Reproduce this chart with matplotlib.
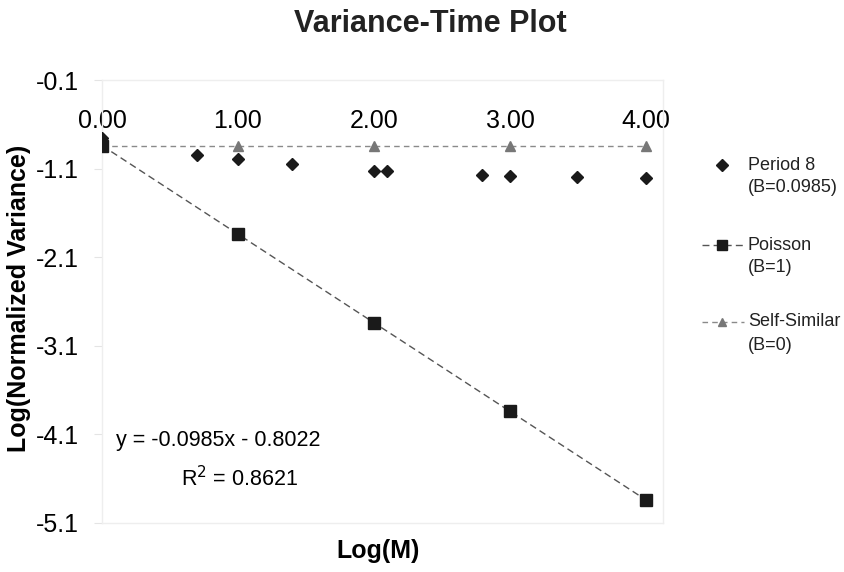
import numpy as np
import matplotlib.pyplot as plt
from matplotlib.lines import Line2D

# log10 of aggregation level M
period8_x = [0.0, 0.699, 1.0, 1.398, 2.0, 2.097, 2.796, 3.0, 3.495, 4.0]
period8_y = [-0.755, -0.946, -0.99, -1.048, -1.127, -1.127, -1.172, -1.183, -1.195, -1.206]

poisson_x = [0, 1, 2, 3, 4]
poisson_y = [-0.84, -1.84, -2.84, -3.84, -4.84]

selfsim_x = [0, 1, 2, 3, 4]
selfsim_y = [-0.84, -0.84, -0.84, -0.84, -0.84]

y_ticks = [-0.1, -1.1, -2.1, -3.1, -4.1, -5.1]
x_ticks = [0, 1, 2, 3, 4]

legend_labels = [('Period 8', '(B=0.0985)'), ('Poisson', '(B=1)'), ('Self-Similar', '(B=0)')]

plt.rcParams['font.family'] = ['Liberation Sans', 'DejaVu Sans']

W, H = 845, 572
fig = plt.figure(figsize=(W / 100, H / 100), dpi=100)
ax = fig.add_axes([102 / W, 1 - 523 / H, (663 - 102) / W, (523 - 80) / H])

ss_style = dict(ls=(0, (4, 3)), color='#8a8a8a', lw=1, marker='^', ms=7,
                mfc='#777777', mec='#777777')
po_style = dict(ls=(0, (5, 3)), color='#555555', lw=1, marker='s', ms=8,
                mfc='#1a1a1a', mec='#1a1a1a')
p8_style = dict(ls='none', marker='D', ms=6.5, mfc='#1a1a1a', mec='#1a1a1a')

ax.plot(selfsim_x, selfsim_y, zorder=2, **ss_style)
ax.plot(poisson_x, poisson_y, zorder=3, **po_style)
ax.plot(period8_x, period8_y, zorder=4, **p8_style)

ax.set_xlim(0, 4.125)
ax.set_ylim(-5.1, -0.1)
ax.set_yticks(y_ticks)
ax.set_yticklabels([f'{v:.1f}' for v in y_ticks])
ax.set_xticks(x_ticks)
ax.set_xticklabels([f'{v:.2f}' for v in x_ticks])

for s in ax.spines.values():
    s.set_color('#eeeeee')
    s.set_linewidth(1)

ax.tick_params(axis='y', labelsize=18, length=5.5, color='#e4e4e4', pad=11)
ax.tick_params(axis='x', bottom=False, labelbottom=False, top=False,
               labeltop=True, labelsize=18, pad=-42)

fig.text(430 / W, 1 - 24 / H, 'Variance-Time Plot', ha='center', va='center',
         fontsize=22, fontweight='bold', color='#222222')
fig.text(378 / W, 1 - 551 / H, 'Log(M)', ha='center', va='center',
         fontsize=18, fontweight='bold')
fig.text(19 / W, 1 - 298 / H, 'Log(Normalized Variance)', ha='center', va='center',
         rotation=90, fontsize=18, fontweight='bold')

ax.text(0.207, 0.187, 'y = -0.0985x - 0.8022', transform=ax.transAxes,
        ha='center', va='center', fontsize=15.5)
ax.text(0.245, 0.10, 'R$^2$ = 0.8621', transform=ax.transAxes,
        ha='center', va='center', fontsize=15.5)

# legend drawn by hand so the marker sits on the first text line
styles = [p8_style, po_style, ss_style]
rows = [165, 245, 322]
for st, (l1, l2), yp in zip(styles, legend_labels, rows):
    yf = 1 - yp / H
    if st['ls'] == 'none':
        fig.add_artist(Line2D([722 / W], [yf], transform=fig.transFigure, **st))
    else:
        line_st = {k: v for k, v in st.items() if not k.startswith('m')}
        fig.add_artist(Line2D([702 / W, 744 / W], [yf, yf], transform=fig.transFigure,
                              **line_st))
        fig.add_artist(Line2D([722 / W], [yf], transform=fig.transFigure, ls='none',
                              marker=st['marker'], ms=st['ms'] - 1, mfc=st['mfc'],
                              mec=st['mec']))
    fig.text(748 / W, yf, l1, ha='left', va='center', fontsize=13, color='#222222')
    fig.text(748 / W, yf - 23 / H, l2, ha='left', va='center', fontsize=13, color='#222222')

fig.savefig('out.png', dpi=100)
